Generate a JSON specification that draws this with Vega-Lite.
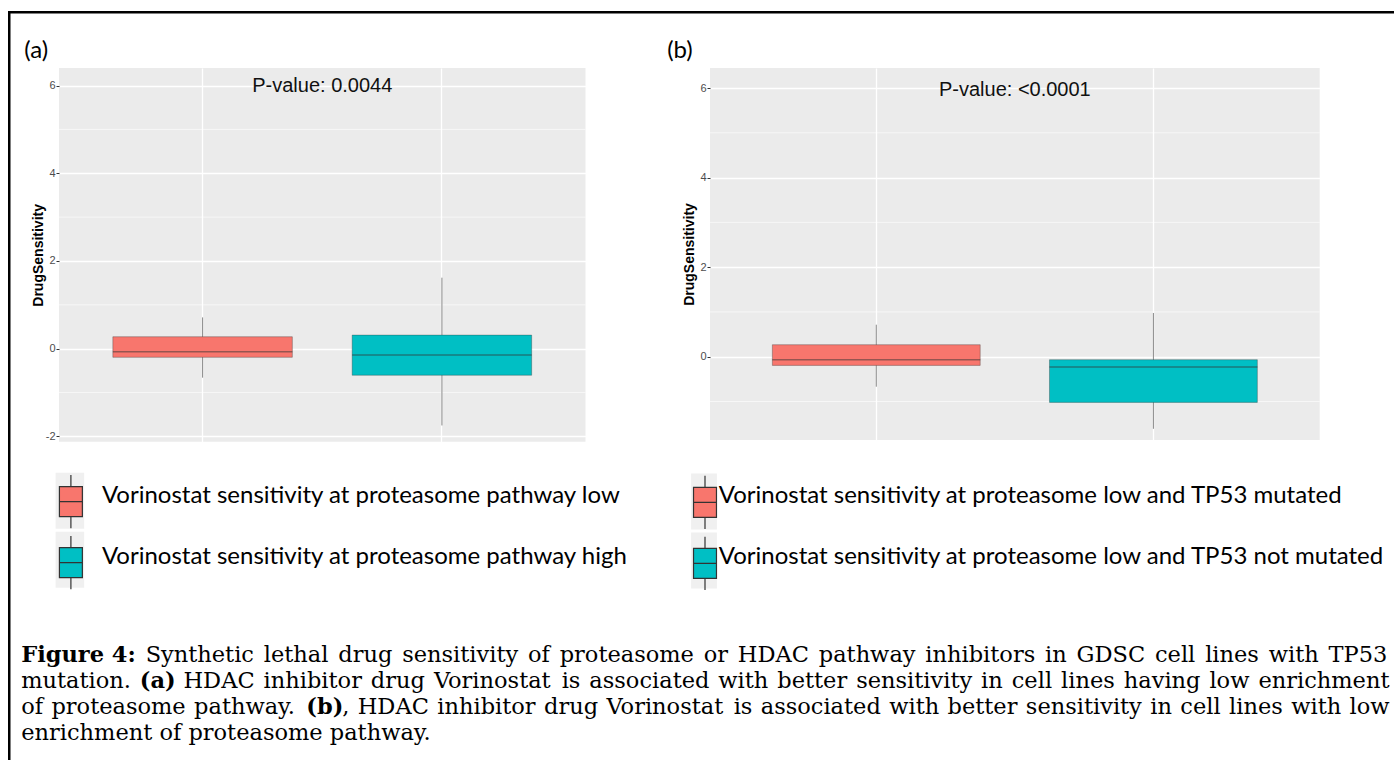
{
  "$schema": "https://vega.github.io/schema/vega-lite/v6.json",
  "padding": {"left": 8, "top": 11, "right": 0, "bottom": 0},
  "background": "white",
  "config": {"view": {"stroke": null}},
  "datasets": {
    "boxA": [
      {"group": "Vorinostat sensitivity at proteasome pathway low", "lower": -0.66, "q1": -0.196, "median": -0.07, "q3": 0.273, "upper": 0.714},
      {"group": "Vorinostat sensitivity at proteasome pathway high", "lower": -1.75, "q1": -0.605, "median": -0.143, "q3": 0.31, "upper": 1.62}
    ],
    "boxB": [
      {"group": "Vorinostat sensitivity at proteasome low and TP53 mutated", "lower": -0.67, "q1": -0.194, "median": -0.067, "q3": 0.268, "upper": 0.715},
      {"group": "Vorinostat sensitivity at proteasome low and TP53 not mutated", "lower": -1.61, "q1": -1.02, "median": -0.23, "q3": -0.067, "upper": 0.976}
    ],
    "minor": [{"v": -1}, {"v": 1}, {"v": 3}, {"v": 5}],
    "caption": [
      {"line": 1, "role": "label", "x": 11.2, "text": "Figure 4:"},
      {"line": 1, "role": "body", "x": 135.66, "text": "Synthetic"},
      {"line": 1, "role": "body", "x": 253.8, "text": "lethal"},
      {"line": 1, "role": "body", "x": 328.29, "text": "drug"},
      {"line": 1, "role": "body", "x": 392.16, "text": "sensitivity"},
      {"line": 1, "role": "body", "x": 517.99, "text": "of"},
      {"line": 1, "role": "body", "x": 549.68, "text": "proteasome"},
      {"line": 1, "role": "body", "x": 693.71, "text": "or"},
      {"line": 1, "role": "body", "x": 727.83, "text": "HDAC"},
      {"line": 1, "role": "body", "x": 808.77, "text": "pathway"},
      {"line": 1, "role": "body", "x": 915.32, "text": "inhibitors"},
      {"line": 1, "role": "body", "x": 1035.01, "text": "in"},
      {"line": 1, "role": "body", "x": 1066.52, "text": "GDSC"},
      {"line": 1, "role": "body", "x": 1144.99, "text": "cell"},
      {"line": 1, "role": "body", "x": 1195.13, "text": "lines"},
      {"line": 1, "role": "body", "x": 1258.7, "text": "with"},
      {"line": 1, "role": "body", "x": 1318.52, "text": "TP53"},
      {"line": 2, "role": "body", "x": 11.2, "text": "mutation."},
      {"line": 2, "role": "label", "x": 129.87, "text": "(a)"},
      {"line": 2, "role": "body", "x": 173.5, "text": "HDAC"},
      {"line": 2, "role": "body", "x": 253.58, "text": "inhibitor"},
      {"line": 2, "role": "body", "x": 360.87, "text": "drug"},
      {"line": 2, "role": "body", "x": 423.88, "text": "Vorinostat"},
      {"line": 2, "role": "body", "x": 551.66, "text": "is"},
      {"line": 2, "role": "body", "x": 579.36, "text": "associated"},
      {"line": 2, "role": "body", "x": 708.34, "text": "with"},
      {"line": 2, "role": "body", "x": 767.3, "text": "better"},
      {"line": 2, "role": "body", "x": 846.15, "text": "sensitivity"},
      {"line": 2, "role": "body", "x": 971.12, "text": "in"},
      {"line": 2, "role": "body", "x": 1001.77, "text": "cell"},
      {"line": 2, "role": "body", "x": 1051.05, "text": "lines"},
      {"line": 2, "role": "body", "x": 1113.76, "text": "having"},
      {"line": 2, "role": "body", "x": 1199.42, "text": "low"},
      {"line": 2, "role": "body", "x": 1248.39, "text": "enrichment"},
      {"line": 3, "role": "body", "x": 11.2, "text": "of"},
      {"line": 3, "role": "body", "x": 41.46, "text": "proteasome"},
      {"line": 3, "role": "body", "x": 184.06, "text": "pathway."},
      {"line": 3, "role": "label", "x": 296.33, "text": "(b)"},
      {"line": 3, "role": "body", "x": 332.2, "text": ","},
      {"line": 3, "role": "body", "x": 347.75, "text": "HDAC"},
      {"line": 3, "role": "body", "x": 427.26, "text": "inhibitor"},
      {"line": 3, "role": "body", "x": 533.98, "text": "drug"},
      {"line": 3, "role": "body", "x": 596.42, "text": "Vorinostat"},
      {"line": 3, "role": "body", "x": 723.63, "text": "is"},
      {"line": 3, "role": "body", "x": 750.76, "text": "associated"},
      {"line": 3, "role": "body", "x": 879.17, "text": "with"},
      {"line": 3, "role": "body", "x": 937.56, "text": "better"},
      {"line": 3, "role": "body", "x": 1015.84, "text": "sensitivity"},
      {"line": 3, "role": "body", "x": 1140.24, "text": "in"},
      {"line": 3, "role": "body", "x": 1170.32, "text": "cell"},
      {"line": 3, "role": "body", "x": 1219.03, "text": "lines"},
      {"line": 3, "role": "body", "x": 1281.17, "text": "with"},
      {"line": 3, "role": "body", "x": 1339.56, "text": "low"},
      {"line": 4, "role": "body", "x": 11.2, "text": "enrichment of proteasome pathway."}
    ]
  },
  "bounds": "flush",
  "spacing": 0,
  "hconcat": [
    {
      "width": 0.5,
      "height": 760,
      "view": {"stroke": "black", "strokeWidth": 2, "fill": null},
      "data": {"values": []},
      "mark": "point",
      "encoding": {}
    },
    {
      "bounds": "flush",
      "spacing": 55,
      "vconcat": [
        {
          "width": 1386,
          "height": 0.5,
          "view": {"stroke": "black", "strokeWidth": 2, "fill": null},
          "data": {"values": []},
          "mark": "point",
          "encoding": {}
        },
        {
          "bounds": "flush",
          "spacing": 580.5,
          "vconcat": [
            {
              "bounds": "flush",
              "spacing": 0,
              "hconcat": [
                {
                  "width": 48.8,
                  "height": 10,
                  "data": {"values": []},
                  "mark": "point",
                  "encoding": {}
                },
                {
                  "bounds": "flush",
                  "spacing": 124,
                  "resolve": {"scale": {"color": "independent", "fill": "independent"}, "legend": {"color": "independent", "fill": "independent"}},
                  "hconcat": [
                    {
                      "width": 526.5,
                      "height": 373.7,
                      "title": {"text": "(a)", "anchor": "start", "frame": "group", "dx": -34.7, "offset": 5, "font": "Lato", "fontSize": 24, "fontWeight": "normal", "color": "black"},
                      "view": {"fill": "#EBEBEB", "stroke": null},
                      "layer": [
                        {
                          "data": {"name": "minor"},
                          "mark": {"type": "rule", "color": "white", "strokeWidth": 0.6},
                          "encoding": {
                            "y": {"field": "v", "type": "quantitative",
                              "scale": {"domain": [-2.12, 6.4], "nice": false, "zero": false},
                              "axis": {"values": [-2, 0, 2, 4, 6], "labelExpr": "datum.value + ''", "title": "DrugSensitivity", "titleFont": "Liberation Sans", "titleFontWeight": "bold", "titleFontSize": 14, "titleColor": "black", "titlePadding": 0, "labelFont": "Liberation Sans", "labelFontSize": 11, "labelColor": "#4D4D4D", "labelPadding": 1, "tickColor": "#333333", "tickSize": 3, "domain": false, "grid": true, "gridColor": "white", "gridWidth": 1.3}}
                          }
                        },
                        {
                          "data": {"name": "boxA"},
                          "mark": {"type": "tick", "size": 0, "thickness": 0},
                          "encoding": {
                            "x": {"field": "group", "type": "nominal", "sort": ["Vorinostat sensitivity at proteasome pathway low", "Vorinostat sensitivity at proteasome pathway high"], "scale": {"paddingInner": 0, "paddingOuter": 0.1},
                              "axis": {"labels": false, "ticks": false, "domain": false, "title": null, "grid": true, "gridColor": "white", "gridWidth": 1.3, "bandPosition": 0.5}},
                            "y": {"field": "median", "type": "quantitative"},
                            "fill": {"field": "group", "type": "nominal",
                              "scale": {"domain": ["Vorinostat sensitivity at proteasome pathway high", "Vorinostat sensitivity at proteasome pathway low"], "range": ["#F0F0F0", "#F0F0F0"]},
                              "legend": {"orient": "none", "legendX": -17.1, "legendY": 404.7, "zindex": 1, "title": null, "padding": 0, "rowPadding": 3,
                                "symbolType": "M-0.51,-1H0.51V1H-0.51Z", "symbolSize": 3136, "symbolStrokeWidth": 0, "symbolOpacity": 1,
                                "labelExpr": "''", "labelFontSize": 24, "labelLimit": 0}}
                          }
                        },
                        {
                          "data": {"name": "boxA"},
                          "mark": {"type": "rule", "color": "#8a8a8a", "strokeWidth": 1},
                          "encoding": {
                            "x": {"field": "group", "type": "nominal", "sort": ["Vorinostat sensitivity at proteasome pathway low", "Vorinostat sensitivity at proteasome pathway high"]},
                            "y": {"field": "lower", "type": "quantitative"},
                            "y2": {"field": "upper"}
                          }
                        },
                        {
                          "data": {"name": "boxA"},
                          "mark": {"type": "bar", "width": {"band": 0.75}, "stroke": "#333333", "strokeOpacity": 0.35, "strokeWidth": 1},
                          "encoding": {
                            "x": {"field": "group", "type": "nominal", "sort": ["Vorinostat sensitivity at proteasome pathway low", "Vorinostat sensitivity at proteasome pathway high"]},
                            "y": {"field": "q1", "type": "quantitative"},
                            "y2": {"field": "q3"},
                            "color": {"field": "group", "type": "nominal",
                              "scale": {"domain": ["Vorinostat sensitivity at proteasome pathway low", "Vorinostat sensitivity at proteasome pathway high"], "range": ["#F8766D", "#00BFC4"]},
                              "legend": {"orient": "none", "legendX": -17.1, "legendY": 404.7, "zindex": 2, "title": null, "padding": 0, "rowPadding": 3,
                                "symbolType": "M-0.41,-0.536H0.41V0.536H-0.41Z M-0.41,0H0.41 M0,-0.536V-0.95 M0,0.536V0.95",
                                "symbolSize": 3136, "symbolStrokeColor": "#333333", "symbolStrokeWidth": 1.2, "symbolOpacity": 1,
                                "labelFont": "Lato", "labelFontSize": 24, "labelColor": "black", "labelLimit": 0, "labelOffset": 2,
                                "encode": {"symbols": {"update": {"stroke": {"value": "#333333"}, "strokeOpacity": {"value": 1}, "strokeWidth": {"value": 1.2}}}, "labels": {"update": {"dy": {"value": -6}}}}}}
                          }
                        },
                        {
                          "data": {"name": "boxA"},
                          "mark": {"type": "tick", "size": 179.5, "thickness": 1.6, "color": "#333333", "opacity": 0.5},
                          "encoding": {
                            "x": {"field": "group", "type": "nominal", "sort": ["Vorinostat sensitivity at proteasome pathway low", "Vorinostat sensitivity at proteasome pathway high"]},
                            "y": {"field": "median", "type": "quantitative"}
                          }
                        },
                        {
                          "data": {"values": [{"label": "P-value: 0.0044"}]},
                          "mark": {"type": "text", "font": "Liberation Sans", "fontSize": 20, "color": "#111111", "baseline": "middle", "align": "center"},
                          "encoding": {
                            "y": {"datum": 6, "type": "quantitative"},
                            "text": {"field": "label"}
                          }
                        }
                      ]
                    },
                    {
                      "width": 609.7,
                      "height": 372,
                      "title": {"text": "(b)", "anchor": "start", "frame": "group", "dx": -42.8, "offset": 5, "font": "Lato", "fontSize": 24, "fontWeight": "normal", "color": "black"},
                      "view": {"fill": "#EBEBEB", "stroke": null},
                      "layer": [
                        {
                          "data": {"name": "minor"},
                          "mark": {"type": "rule", "color": "white", "strokeWidth": 0.6},
                          "encoding": {
                            "y": {"field": "v", "type": "quantitative",
                              "scale": {"domain": [-1.86, 6.447], "nice": false, "zero": false},
                              "axis": {"values": [0, 2, 4, 6], "labelExpr": "datum.value + ''", "title": "DrugSensitivity", "titleFont": "Liberation Sans", "titleFontWeight": "bold", "titleFontSize": 14, "titleColor": "black", "titlePadding": 3.5, "labelFont": "Liberation Sans", "labelFontSize": 11, "labelColor": "#4D4D4D", "labelPadding": 1, "tickColor": "#333333", "tickSize": 3, "domain": false, "grid": true, "gridColor": "white", "gridWidth": 1.3}}
                          }
                        },
                        {
                          "data": {"name": "boxB"},
                          "mark": {"type": "tick", "size": 0, "thickness": 0},
                          "encoding": {
                            "x": {"field": "group", "type": "nominal", "sort": ["Vorinostat sensitivity at proteasome low and TP53 mutated", "Vorinostat sensitivity at proteasome low and TP53 not mutated"], "scale": {"paddingInner": 0, "paddingOuter": 0.1},
                              "axis": {"labels": false, "ticks": false, "domain": false, "title": null, "grid": true, "gridColor": "white", "gridWidth": 1.3, "bandPosition": 0.5}},
                            "y": {"field": "median", "type": "quantitative"},
                            "fill": {"field": "group", "type": "nominal",
                              "scale": {"domain": ["Vorinostat sensitivity at proteasome low and TP53 not mutated", "Vorinostat sensitivity at proteasome low and TP53 mutated"], "range": ["#F0F0F0", "#F0F0F0"]},
                              "legend": {"orient": "none", "legendX": -34, "legendY": 405.4, "zindex": 1, "title": null, "padding": 0, "rowPadding": 3,
                                "symbolType": "M-0.46,-1H0.46V1H-0.46Z", "symbolSize": 3136, "symbolStrokeWidth": 0, "symbolOpacity": 1,
                                "labelExpr": "''", "labelFontSize": 24, "labelLimit": 0}}
                          }
                        },
                        {
                          "data": {"name": "boxB"},
                          "mark": {"type": "rule", "color": "#8a8a8a", "strokeWidth": 1},
                          "encoding": {
                            "x": {"field": "group", "type": "nominal", "sort": ["Vorinostat sensitivity at proteasome low and TP53 mutated", "Vorinostat sensitivity at proteasome low and TP53 not mutated"]},
                            "y": {"field": "lower", "type": "quantitative"},
                            "y2": {"field": "upper"}
                          }
                        },
                        {
                          "data": {"name": "boxB"},
                          "mark": {"type": "bar", "width": {"band": 0.75}, "stroke": "#333333", "strokeOpacity": 0.35, "strokeWidth": 1},
                          "encoding": {
                            "x": {"field": "group", "type": "nominal", "sort": ["Vorinostat sensitivity at proteasome low and TP53 mutated", "Vorinostat sensitivity at proteasome low and TP53 not mutated"]},
                            "y": {"field": "q1", "type": "quantitative"},
                            "y2": {"field": "q3"},
                            "color": {"field": "group", "type": "nominal",
                              "scale": {"domain": ["Vorinostat sensitivity at proteasome low and TP53 mutated", "Vorinostat sensitivity at proteasome low and TP53 not mutated"], "range": ["#F8766D", "#00BFC4"]},
                              "legend": {"orient": "none", "legendX": -34, "legendY": 405.4, "zindex": 2, "title": null, "padding": 0, "rowPadding": 3,
                                "symbolType": "M-0.41,-0.536H0.41V0.536H-0.41Z M-0.41,0H0.41 M0,-0.536V-0.95 M0,0.536V0.95",
                                "symbolSize": 3136, "symbolStrokeColor": "#333333", "symbolStrokeWidth": 1.2, "symbolOpacity": 1,
                                "labelFont": "Lato", "labelFontSize": 24, "labelColor": "black", "labelLimit": 0, "labelOffset": -15.3,
                                "encode": {"symbols": {"update": {"stroke": {"value": "#333333"}, "strokeOpacity": {"value": 1}, "strokeWidth": {"value": 1.2}}}, "labels": {"update": {"dy": {"value": -6}}}}}}
                          }
                        },
                        {
                          "data": {"name": "boxB"},
                          "mark": {"type": "tick", "size": 208, "thickness": 1.6, "color": "#333333", "opacity": 0.5},
                          "encoding": {
                            "x": {"field": "group", "type": "nominal", "sort": ["Vorinostat sensitivity at proteasome low and TP53 mutated", "Vorinostat sensitivity at proteasome low and TP53 not mutated"]},
                            "y": {"field": "median", "type": "quantitative"}
                          }
                        },
                        {
                          "data": {"values": [{"label": "P-value: <0.0001"}]},
                          "mark": {"type": "text", "font": "Liberation Sans", "fontSize": 20, "color": "#111111", "baseline": "middle", "align": "center"},
                          "encoding": {
                            "y": {"datum": 5.95, "type": "quantitative"},
                            "text": {"field": "label"}
                          }
                        }
                      ]
                    }
                  ]
                }
              ]
            },
            {
              "width": 1385,
              "height": 104,
              "data": {"name": "caption"},
              "layer": [
                {
                  "transform": [{"filter": "datum.role == 'label'"}],
                  "mark": {"type": "text", "font": "DejaVu Serif", "fontSize": 22.5, "fontWeight": "bold", "align": "left", "baseline": "alphabetic", "color": "black"},
                  "encoding": {
                    "x": {"field": "x", "type": "quantitative", "scale": {"domain": [0, 1385], "nice": false, "zero": false}, "axis": null},
                    "y": {"field": "line", "type": "ordinal", "scale": {"paddingInner": 0, "paddingOuter": 0}, "axis": null},
                    "text": {"field": "text"}
                  }
                },
                {
                  "transform": [{"filter": "datum.role == 'body'"}],
                  "mark": {"type": "text", "font": "DejaVu Serif", "fontSize": 22.5, "fontWeight": "normal", "align": "left", "baseline": "alphabetic", "color": "black"},
                  "encoding": {
                    "x": {"field": "x", "type": "quantitative"},
                    "y": {"field": "line", "type": "ordinal"},
                    "text": {"field": "text"}
                  }
                }
              ]
            }
          ]
        }
      ]
    }
  ]
}
